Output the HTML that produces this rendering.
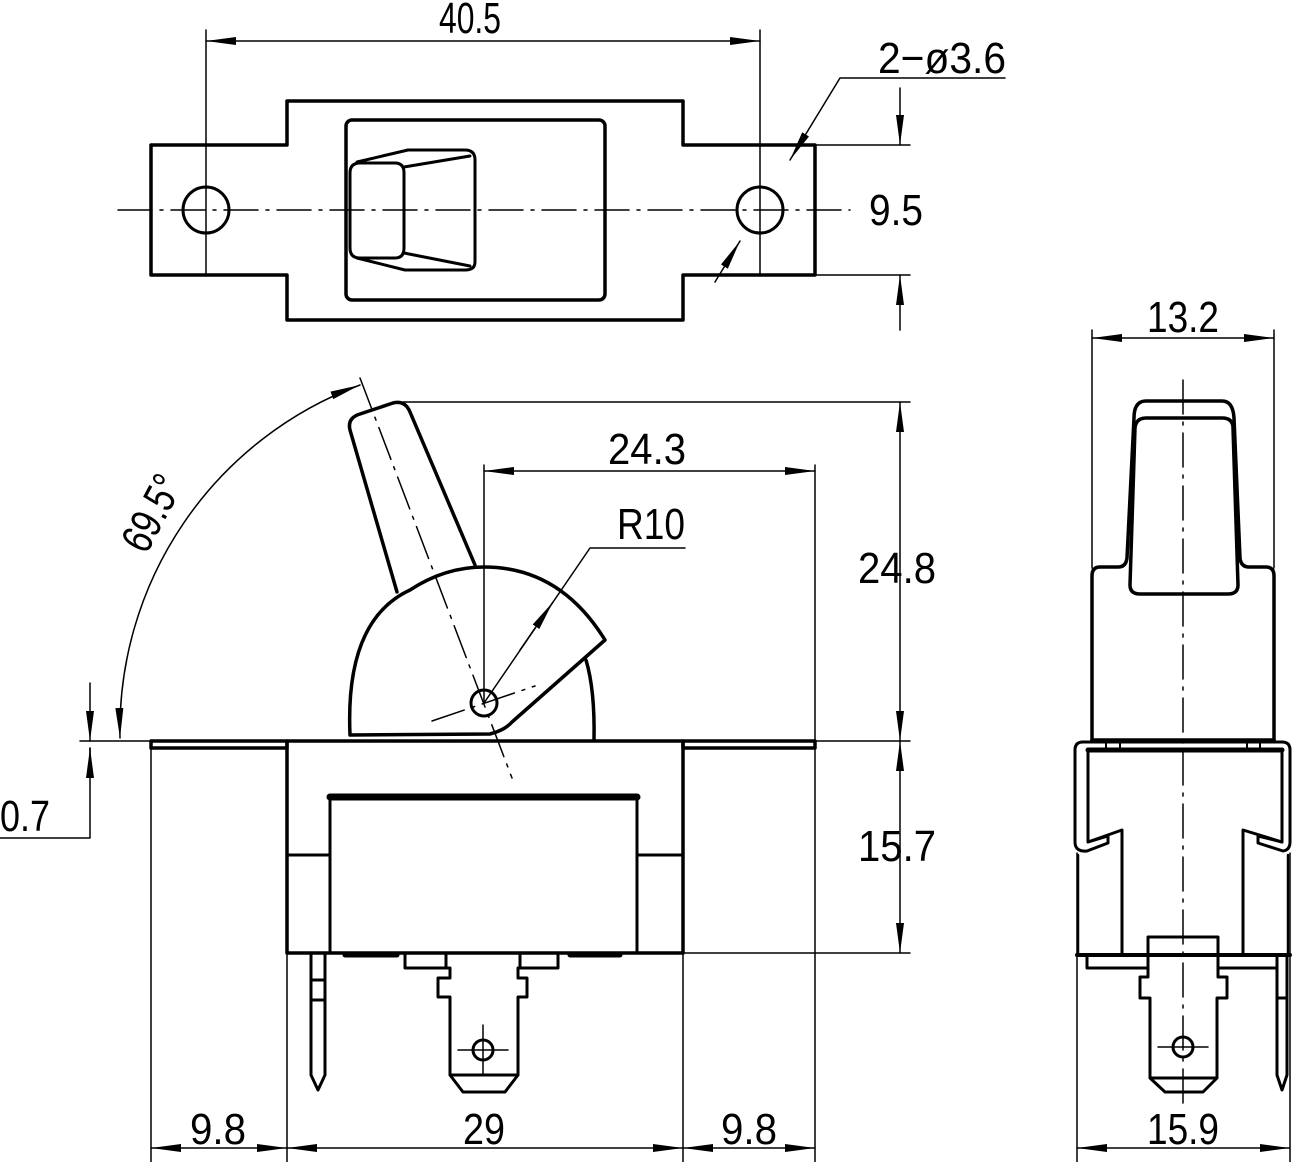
<!DOCTYPE html>
<html><head><meta charset="utf-8"><style>html,body{margin:0;padding:0;background:#fff}svg{display:block}</style></head><body>
<svg width="1294" height="1162" viewBox="0 0 1294 1162" xmlns="http://www.w3.org/2000/svg">
<defs>
<marker id="a" viewBox="0 0 30 10" refX="30" refY="5" markerWidth="30" markerHeight="10" markerUnits="userSpaceOnUse" orient="auto-start-reverse"><path d="M0,1 L30,5 L0,9 z" fill="#000"/></marker>
</defs>
<g fill="none" stroke="#000" stroke-linejoin="round" stroke-linecap="round">
<!-- TOP VIEW -->
<path d="M151,145 H287 V101 H683 V145 H815 V275 H683 V320 H287 V275 H151 Z" stroke-width="3.5"/>
<rect x="346" y="120" width="259" height="180" rx="6" stroke-width="3.5"/>
<path d="M357,162 L408,150 H465 Q475,150 475,160 V262 Q475,270 465,270 H405 L357,258" stroke-width="3"/>
<path d="M360,163 H395 Q404,163 404,173 V248 Q404,258 395,258 H360 Q350,258 350,248 V173 Q350,163 360,163 Z" stroke-width="3"/>
<path d="M404,167 L470,156 M404,253 L470,266" stroke-width="3"/>
<circle cx="206" cy="210" r="23" stroke-width="3"/>
<circle cx="760" cy="210" r="23" stroke-width="3"/>
<path d="M118,210 H850" stroke-width="1.5" stroke-dasharray="34,8,3,8"/>
<path d="M206,30 V275 M760,30 V275" stroke-width="1.5"/>
<path d="M206,41 H760" stroke-width="1.5" marker-start="url(#a)" marker-end="url(#a)"/>
<path d="M815,145 H910 M815,275 H910" stroke-width="1.5"/>
<path d="M900,88 V145" stroke-width="1.5" marker-end="url(#a)"/>
<path d="M900,330 V275" stroke-width="1.5" marker-end="url(#a)"/>
<path d="M1005,78 H840 L790,160" stroke-width="1.5" marker-end="url(#a)"/>
<path d="M715,282 L740,241" stroke-width="1.5" marker-end="url(#a)"/>

<!-- FRONT VIEW -->
<path d="M151,741 H287 V748 H151 Z M683,741 H815 V748 H683 Z" stroke-width="3.5"/>
<path d="M80,741 H151 M815,741 H910" stroke-width="1.5"/>
<rect x="287" y="741" width="396" height="212" stroke-width="3.5"/>
<path d="M287,855 H330 M637,855 H683" stroke-width="3"/>
<path d="M330,953 V797 H637 V953" stroke-width="3"/>
<path d="M330,797 H637" stroke-width="7"/>
<path d="M350,735 Q345,620 410,590 Q445,567 484,567 Q560,567 605,640 L512,722 Q505,730 490,734 Z" stroke-width="3.5"/>
<path d="M586,660 Q595,690 594,740" stroke-width="3.5"/>
<path d="M397,592 L350,430 Q347,418 360,414 L393,403 Q405,400 410,412 L475,565" stroke-width="3.5"/>
<circle cx="484" cy="703" r="13" stroke-width="3"/>
<path d="M360,378 L512,778" stroke-width="1.5" stroke-dasharray="34,8,3,8"/>
<path d="M432,721 L535,686" stroke-width="1.5" stroke-dasharray="34,8,3,8"/>
<path d="M311,953 V1075 L318,1090 L325,1075 V953 M311,980 H325 M311,1000 H325" stroke-width="3"/>
<path d="M345,955 H397 M570,955 H620" stroke-width="5"/>
<path d="M405,953 V968 H446 V953 M520,953 V968 H558 V953" stroke-width="3"/>
<path d="M446,968 H450 V978 H438 V997 H450 V1075 L463,1092 H505 L518,1075 V997 H527 V978 H518 V968 H520" stroke-width="3"/>
<path d="M450,1075 H518" stroke-width="3"/>
<circle cx="483" cy="1050" r="10" stroke-width="3"/>
<path d="M458,1050 H508 M483,1025 V1075" stroke-width="1.5"/>
<path d="M484,465 V703 M815,465 V741" stroke-width="1.5"/>
<path d="M484,471 H815" stroke-width="1.5" marker-start="url(#a)" marker-end="url(#a)"/>
<path d="M685,548 H590 L484,703" stroke-width="1.5"/>
<path d="M520,650 L553,602" stroke-width="1.5" marker-end="url(#a)"/>
<path d="M403,402 H910 M683,953 H910" stroke-width="1.5"/>
<path d="M900,402 V741" stroke-width="1.5" marker-start="url(#a)" marker-end="url(#a)"/>
<path d="M900,741 V953" stroke-width="1.5" marker-start="url(#a)" marker-end="url(#a)"/>
<path d="M120,738 A368,368 0 0 1 360,385" stroke-width="1.5" marker-start="url(#a)" marker-end="url(#a)"/>
<path d="M90,683 V741" stroke-width="1.5" marker-end="url(#a)"/>
<path d="M90,838 V748 M0,838 H90" stroke-width="1.5"/>
<path d="M90,775 V748" stroke-width="1.5" marker-end="url(#a)"/>
<path d="M151,748 V1162 M287,953 V1162 M683,953 V1162 M815,748 V1162" stroke-width="1.5"/>
<path d="M151,1148 H287" stroke-width="1.5" marker-start="url(#a)" marker-end="url(#a)"/>
<path d="M287,1148 H683" stroke-width="1.5" marker-start="url(#a)" marker-end="url(#a)"/>
<path d="M683,1148 H815" stroke-width="1.5" marker-start="url(#a)" marker-end="url(#a)"/>

<!-- RIGHT VIEW -->
<path d="M1183,380 V1110" stroke-width="1.5" stroke-dasharray="34,8,3,8"/>
<path d="M1092,330 V568 M1274,330 V568" stroke-width="1.5"/>
<path d="M1092,338 H1274" stroke-width="1.5" marker-start="url(#a)" marker-end="url(#a)"/>
<path d="M1092,740 V576 Q1092,567 1100,567 H1118 Q1126,567 1127,558 L1134,418 Q1134,401 1146,401 H1222 Q1233,401 1234,418 L1240,558 Q1241,567 1249,567 H1266 Q1274,567 1274,576 V740" stroke-width="3.5"/>
<path d="M1146,418 H1222 Q1233,418 1233,428 L1238,585 Q1238,594 1228,594 H1140 Q1130,594 1130,585 L1135,428 Q1136,418 1146,418 Z" stroke-width="3.5"/>
<path d="M1106,740 V748 M1120,740 V748 M1247,740 V748 M1260,740 V748" stroke-width="2"/>
<path d="M1092,740 H1274" stroke-width="3.5"/>
<path d="M1087,851 L1108,843 V836 L1088,842 V750 H1282 V842 L1258,836 V843 L1283,851 Q1290,850 1290,842 V750 Q1290,742 1282,742 H1083 Q1075,742 1075,750 V842 Q1075,852 1087,851 Z" stroke-width="3"/>
<path d="M1088,750 H1282" stroke-width="5"/>
<path d="M1077,853 V1162 M1290,853 V1162" stroke-width="1.5"/>
<path d="M1078,855 V955 M1288,855 V955" stroke-width="2.5"/>
<path d="M1088,842 L1122,830 V955 M1282,842 L1243,830 V955" stroke-width="3"/>
<path d="M1077,955 H1290" stroke-width="4"/>
<path d="M1087,955 V968 H1147 M1218,968 H1277" stroke-width="3"/>
<path d="M1148,955 V937 H1218 V955" stroke-width="3"/>
<path d="M1148,955 V977 H1140 V998 H1150 V1078 L1165,1092 H1203 L1217,1078 V998 H1227 V977 H1218 V955 M1150,1078 H1217" stroke-width="3"/>
<circle cx="1183" cy="1047" r="10" stroke-width="3"/>
<path d="M1158,1047 H1208" stroke-width="1.5"/>
<path d="M1277,955 V1075 L1282,1090 L1287,1075 V955 M1277,998 H1287" stroke-width="3"/>
<path d="M1077,1148 H1290" stroke-width="1.5" marker-start="url(#a)" marker-end="url(#a)"/>
</g>
<g font-family="Liberation Sans, sans-serif" font-size="44" fill="#000" text-anchor="middle">
<text x="470" y="33" textLength="62" lengthAdjust="spacingAndGlyphs">40.5</text>
<text x="942" y="73" textLength="128" lengthAdjust="spacingAndGlyphs">2−ø3.6</text>
<text x="896" y="225" textLength="54" lengthAdjust="spacingAndGlyphs">9.5</text>
<text x="647" y="464" textLength="78" lengthAdjust="spacingAndGlyphs">24.3</text>
<text x="651" y="539" textLength="68" lengthAdjust="spacingAndGlyphs">R10</text>
<text x="897" y="583" textLength="78" lengthAdjust="spacingAndGlyphs">24.8</text>
<text x="897" y="861" textLength="78" lengthAdjust="spacingAndGlyphs">15.7</text>
<text x="25" y="831" textLength="50" lengthAdjust="spacingAndGlyphs">0.7</text>
<text x="218" y="1144" textLength="56" lengthAdjust="spacingAndGlyphs">9.8</text>
<text x="484" y="1144" textLength="42" lengthAdjust="spacingAndGlyphs">29</text>
<text x="749" y="1144" textLength="56" lengthAdjust="spacingAndGlyphs">9.8</text>
<text x="1183" y="332" textLength="72" lengthAdjust="spacingAndGlyphs">13.2</text>
<text x="1183" y="1144" textLength="72" lengthAdjust="spacingAndGlyphs">15.9</text>
<text x="0" y="0" transform="translate(165,520) rotate(-62)" textLength="80" lengthAdjust="spacingAndGlyphs">69.5°</text>
</g>
</svg>
</body></html>
